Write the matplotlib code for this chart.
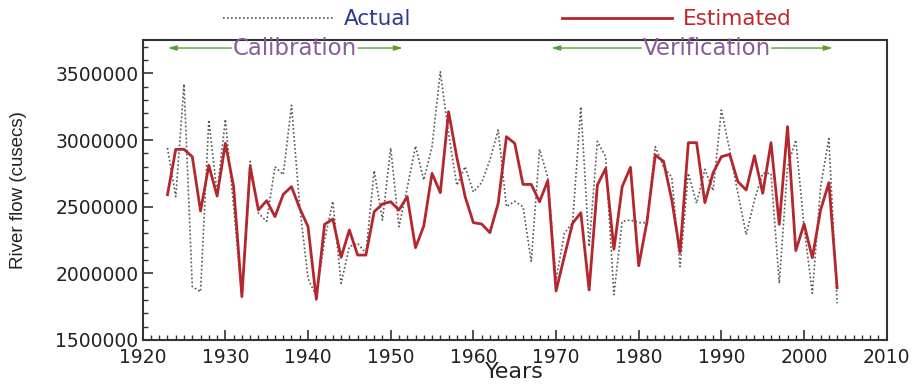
import numpy as np
import matplotlib
matplotlib.use("Agg")
import matplotlib.pyplot as plt
from matplotlib.ticker import MultipleLocator, FuncFormatter

years = list(range(1923, 2005))
estimated = [2590000, 2930000, 2930000, 2875000, 2467000, 2810000, 2580000, 2975000, 2650000, 1825000,
             2800000, 2475000, 2545000, 2425000, 2592000, 2650000, 2487000, 2350000, 1805000, 2367000,
             2407000, 2120000, 2325000, 2137000, 2137000, 2462000, 2520000, 2537000, 2475000, 2575000,
             2192000, 2355000, 2750000, 2605000, 3212000, 2870000, 2575000, 2380000, 2370000, 2305000,
             2525000, 3025000, 2975000, 2667000, 2667000, 2537000, 2695000, 1867000, 2125000, 2375000,
             2455000, 1875000, 2662000, 2787000, 2180000, 2650000, 2795000, 2057000, 2387000, 2887000,
             2840000, 2550000, 2157000, 2980000, 2980000, 2530000, 2755000, 2875000, 2892000, 2687000,
             2625000, 2882000, 2600000, 2980000, 2367000, 3100000, 2170000, 2370000, 2117000, 2475000,
             2680000, 1892000]
actual = [2940000, 2575000, 3420000, 1900000, 1862000, 3150000, 2600000, 3155000, 2500000, 1825000,
          2840000, 2450000, 2390000, 2800000, 2740000, 3260000, 2500000, 1960000, 1830000, 2250000,
          2540000, 1925000, 2200000, 2225000, 2150000, 2770000, 2400000, 2940000, 2350000, 2640000,
          2955000, 2700000, 2950000, 3512000, 3050000, 2660000, 2800000, 2610000, 2680000, 2850000,
          3075000, 2500000, 2540000, 2500000, 2090000, 2930000, 2720000, 1950000, 2300000, 2380000,
          3250000, 2200000, 2990000, 2875000, 1840000, 2390000, 2400000, 2380000, 2380000, 2950000,
          2800000, 2720000, 2050000, 2750000, 2525000, 2780000, 2620000, 3225000, 2925000, 2600000,
          2290000, 2550000, 2750000, 2750000, 1925000, 2800000, 3000000, 2350000, 1850000, 2650000,
          3010000, 1775000]

x_ticks = [1920, 1930, 1940, 1950, 1960, 1970, 1980, 1990, 2000, 2010]
y_ticks = [1500000, 2000000, 2500000, 3000000, 3500000]
# (arrow start, arrow end, text centre) in years
calib_span = (1922.7, 1951.8, 1938.4)
verif_span = (1969.1, 2003.8, 1988.2)

RED = "#b3272d"
FRAME = "#333333"

fig = plt.figure(figsize=(9.17, 3.85), dpi=100)
ax = fig.add_axes([0.1556, 0.117, 0.8114, 0.779])

ax.plot(years, actual, linestyle=(0, (1, 1.4)), color="#555555", lw=1.2, label="Actual")
ax.plot(years, estimated, color=RED, lw=2.0, label="Estimated")

ax.set_xlim(1920, 2010)
ax.set_ylim(1500000, 3750000)
ax.set_xticks(x_ticks)
ax.set_yticks(y_ticks)
ax.yaxis.set_major_formatter(FuncFormatter(lambda v, p: f"{int(round(v))}"))
ax.xaxis.set_minor_locator(MultipleLocator(1))
ax.yaxis.set_minor_locator(MultipleLocator(100000))
ax.tick_params(which="both", direction="in", colors=FRAME, labelcolor="#222222")
ax.tick_params(which="major", length=7, width=1.2, labelsize=13.5)
ax.tick_params(axis="x", which="major", pad=6)
ax.tick_params(axis="y", which="major", pad=3)
ax.tick_params(which="minor", length=3.5, width=1.0)
for lab in ax.get_xticklabels() + ax.get_yticklabels():
    lab.set_family("DejaVu Sans")
for sp in ax.spines.values():
    sp.set_color(FRAME)
    sp.set_linewidth(1.5)

ax.set_xlabel("Years", fontsize=16, family="DejaVu Sans", color="#222222")
ax.xaxis.label.set_va("center")
ax.xaxis.set_label_coords(0.5, -0.108)
ax.set_ylabel("River flow (cusecs)", fontsize=13.5, family="Liberation Sans", color="#222222")
ax.yaxis.set_label_coords(-0.155, 0.5)

# Calibration / Verification annotations
GREEN = "#5aa02c"
PURPLE = "#8a5a9c"
arrow_y = 3690000
for (x0, x1, xm), name in [(calib_span, "Calibration"), (verif_span, "Verification")]:
    t = ax.text(xm, arrow_y, name, ha="center", va="center", fontsize=16.5,
                color=PURPLE, family="DejaVu Sans", zorder=5)
    fig.canvas.draw()
    bb = t.get_window_extent().transformed(ax.transData.inverted())
    ax.annotate("", xy=(x0, arrow_y), xytext=(bb.x0 + 0.2, arrow_y),
                arrowprops=dict(arrowstyle="-|>,head_length=0.5,head_width=0.15", color=GREEN, lw=1.0))
    ax.annotate("", xy=(x1, arrow_y), xytext=(bb.x1 - 0.2, arrow_y),
                arrowprops=dict(arrowstyle="-|>,head_length=0.5,head_width=0.15", color=GREEN, lw=1.0))

leg = ax.legend(loc="lower center", bbox_to_anchor=(0.49, 1.0), ncol=2, frameon=False,
                handlelength=5.1, handletextpad=0.5, columnspacing=7.0,
                prop={"family": "DejaVu Sans", "size": 15.5}, borderaxespad=0.1)
leg.get_texts()[0].set_color("#2b3990")
leg.get_texts()[1].set_color("#c0282d")

fig.savefig("out.png", dpi=100)
